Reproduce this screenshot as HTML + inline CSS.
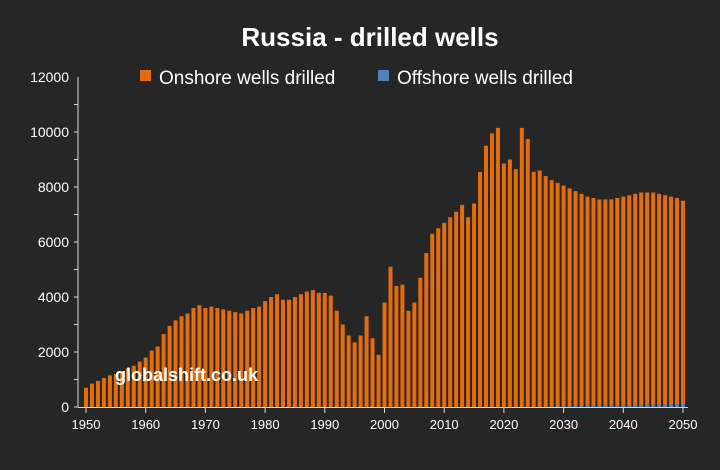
<!DOCTYPE html>
<html><head><meta charset="utf-8"><style>
html,body{margin:0;padding:0;background:#262626;}
svg{display:block;font-family:"Liberation Sans",sans-serif;}
</style></head><body>
<svg id="c" width="720" height="470" xmlns="http://www.w3.org/2000/svg">
<rect width="720" height="470" fill="#262626"/>
<text x="370" y="46" fill="#fff" font-size="26" font-weight="bold" text-anchor="middle">Russia - drilled wells</text>
<rect x="140" y="70" width="11" height="11" fill="#e46c0a"/>
<text x="159" y="84" fill="#fff" font-size="19">Onshore wells drilled</text>
<rect x="378" y="70" width="11" height="11" fill="#4f81bd"/>
<text x="397" y="84" fill="#fff" font-size="19">Offshore wells drilled</text>
<g id="bars"></g>
<g id="ax" fill="#fff" font-size="13"></g>
<text x="115" y="381" fill="#fff" font-size="18" font-weight="bold">globalshift.co.uk</text>
</svg>
<script>
var v=[700,850,950,1050,1150,1200,1300,1400,1500,1650,1800,2050,2200,2650,2950,3150,3300,3400,3600,3700,3600,3650,3600,3550,3500,3450,3400,3500,3600,3650,3850,4000,4100,3900,3900,4000,4100,4200,4250,4150,4150,4050,3500,3000,2600,2350,2600,3300,2500,1900,3800,5100,4400,4450,3500,3800,4700,5600,6300,6500,6700,6900,7100,7350,6900,7400,8550,9500,9950,10150,8850,9000,8650,10150,9750,8550,8600,8400,8250,8150,8050,7950,7850,7750,7650,7600,7550,7550,7550,7600,7650,7700,7750,7800,7800,7800,7750,7700,7650,7600,7500];
var ns="http://www.w3.org/2000/svg",b=document.getElementById('bars'),a=document.getElementById('ax');
function el(t,at,p,tx){var e=document.createElementNS(ns,t);for(var k in at)e.setAttribute(k,at[k]);if(tx!=null)e.textContent=tx;p.appendChild(e);return e;}
var y0=407,k=330/12000;
for(var i=0;i<v.length;i++){var x=86+i*5.97,h=v[i]*k;
el('rect',{x:x-2,y:y0-h,width:4,height:h,fill:'#e46c0a'},b);
if(i>=78){var o=(i-78)*4+20;if(o>110)o=110;el('rect',{x:x-2,y:y0-o*k,width:4,height:o*k,fill:'#4f81bd'},b);}}
el('line',{x1:78,y1:77,x2:78,y2:407,stroke:'#d9d9d9','stroke-width':1},a);
el('line',{x1:78,y1:407.5,x2:688,y2:407.5,stroke:'#d9d9d9','stroke-width':1},a);
for(var j=0;j<=6;j++){var y=407-j*55;el('text',{x:69,y:y+5,'text-anchor':'end','font-size':14},a,String(j*2000));}
for(var j=0;j<=11;j++){var yy=407-j*27.5;el('line',{x1:74,y1:yy,x2:78,y2:yy,stroke:'#d9d9d9'},a);}
for(var d=0;d<=10;d++){var x=86+d*59.7;el('line',{x1:x,y1:407,x2:x,y2:413,stroke:'#d9d9d9'},a);el('text',{x:x,y:429,'text-anchor':'middle'},a,String(1950+d*10));}
</script>
</body></html>
